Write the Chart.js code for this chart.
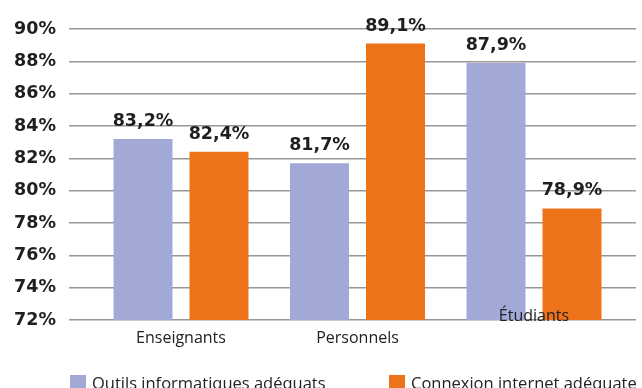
<!DOCTYPE html>
<html>
<head>
<meta charset="utf-8">
<script src="https://cdn.jsdelivr.net/npm/chart.js@4/dist/chart.umd.min.js"></script>
<style>
html,body{margin:0;padding:0;overflow:hidden;background:#fff;}
#wrap{width:642px;height:400px;position:relative;}
</style>
</head>
<body>
<div id="wrap"><canvas id="c"></canvas></div>
<script>
const categories = ['Enseignants', 'Personnels', 'Étudiants'];
const seriesNames = ['Outils informatiques adéquats', 'Connexion internet adéquate'];
const outilsValues = [83.2, 81.7, 87.9];
const connexionValues = [82.4, 89.1, 78.9];
const yTicks = [72, 74, 76, 78, 80, 82, 84, 86, 88, 90];

const colors = ['#a2a9d6', '#ed721a'];
const boldFont = '"DejaVu Sans", sans-serif';
const textFont = '"Open Sans", sans-serif';

function fmt(v){ return v.toFixed(1).replace('.', ',') + '%'; }

const valueLabels = {
  id: 'valueLabels',
  afterDatasetsDraw(chart) {
    const ctx = chart.ctx;
    ctx.save();
    ctx.font = 'bold 17.5px ' + boldFont;
    ctx.fillStyle = '#1f1f1f';
    ctx.textAlign = 'center';
    ctx.textBaseline = 'alphabetic';
    chart.data.datasets.forEach((ds, di) => {
      chart.getDatasetMeta(di).data.forEach((el, i) => {
        ctx.fillText(fmt(ds.data[i].y), el.x, el.y - 13);
      });
    });
    ctx.restore();
  }
};

const categoryLabels = {
  id: 'categoryLabels',
  afterDraw(chart, args, opts) {
    const ctx = chart.ctx, xs = chart.scales.x, area = chart.chartArea;
    ctx.save();
    ctx.font = '16px ' + textFont;
    ctx.fillStyle = '#222';
    ctx.textAlign = 'center';
    ctx.textBaseline = 'alphabetic';
    categories.forEach((c, i) => {
      ctx.fillText(c, xs.getPixelForValue(i), area.bottom + 23 + (opts.offsets[i] || 0));
    });
    ctx.restore();
  }
};

const customLegend = {
  id: 'customLegend',
  afterDraw(chart, args, opts) {
    const ctx = chart.ctx;
    ctx.save();
    ctx.font = '16.5px ' + textFont;
    ctx.textAlign = 'left';
    ctx.textBaseline = 'alphabetic';
    chart.data.datasets.forEach((ds, i) => {
      const x = opts.xs[i];
      ctx.fillStyle = ds.backgroundColor;
      ctx.fillRect(x, opts.boxTop, opts.box, opts.box);
      ctx.fillStyle = '#222';
      ctx.fillText(ds.label, x + opts.box + 6, opts.baseline);
    });
    ctx.restore();
  }
};

const datasets = [outilsValues, connexionValues].map((vals, s) => ({
  label: seriesNames[s],
  data: vals.map((v, i) => ({x: i, y: v})),
  backgroundColor: colors[s],
  borderWidth: 0,
  categoryPercentage: 0.8612,
  barPercentage: 0.7763
}));

new Chart(document.getElementById('c'), {
  type: 'bar',
  data: { datasets },
  plugins: [valueLabels, categoryLabels, customLegend],
  options: {
    responsive: true,
    maintainAspectRatio: false,
    animation: false,
    layout: { padding: { top: 29, right: 6, left: 0, bottom: 0 } },
    plugins: {
      legend: { display: false },
      tooltip: { enabled: false },
      categoryLabels: { offsets: [0, 0, -22] },
      customLegend: { xs: [70, 389], boxTop: 375, box: 16, baseline: 389 }
    },
    scales: {
      x: {
        type: 'linear',
        offset: false,
        min: -0.6346,
        max: 2.5779,
        afterBuildTicks(s) { s.ticks = categories.map((c, i) => ({value: i})); },
        grid: { display: false },
        border: { display: false },
        ticks: { display: false },
        afterFit(s) { s.height = 80; }
      },
      y: {
        min: yTicks[0],
        max: yTicks[yTicks.length - 1],
        afterBuildTicks(s) { s.ticks = yTicks.map(v => ({value: v})); },
        grid: { color: '#9a9595', lineWidth: 1.5, drawTicks: false },
        border: { display: false },
        ticks: {
          padding: 13,
          color: '#1f1f1f',
          font: { family: boldFont, size: 17.5, weight: 'bold' },
          callback: v => v + '%'
        },
        afterFit(s) { s.width = 69; }
      }
    }
  }
});
</script>
</body>
</html>
